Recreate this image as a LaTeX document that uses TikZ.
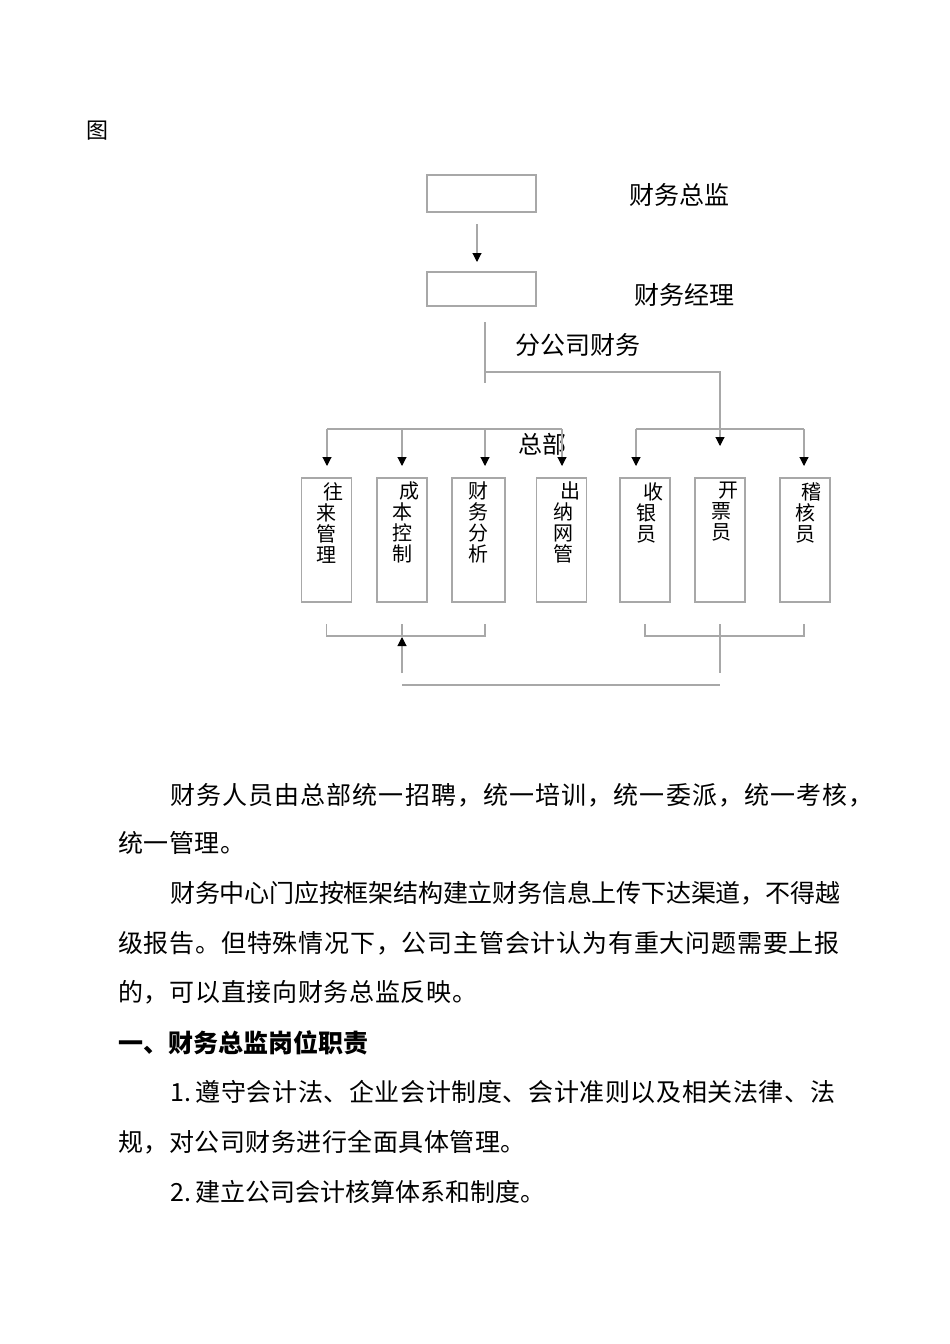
\documentclass[tikz,border=0pt]{standalone}
\usepackage{fontspec}
\setmainfont{Noto Sans CJK SC}
\usetikzlibrary{arrows.meta}
\definecolor{linegray}{gray}{0.66}

\begin{document}
\begin{tikzpicture}[x=1pt,y=-1pt,
  box/.style={draw=linegray, line width=1.1pt, inner sep=0pt, outer sep=0pt},
  post/.style={box, minimum width=50pt, minimum height=124pt},
  line/.style={draw=linegray, line width=1.1pt},
  arr/.style={line, -{Triangle[black, width=9pt, length=9pt]}},
  title/.style={inner sep=0pt, font=\fontsize{25}{25}\selectfont},
  vtext/.style={inner sep=0pt, align=center, anchor=north, font=\fontsize{20}{21}\selectfont},
  para/.style={inner sep=0pt, anchor=west, font=\fontsize{25}{25}\selectfont\addfontfeature{LetterSpace=#1}},
  para/.default=2]
\path[use as bounding box, fill=white] (0,0) rectangle (950,1344);

\node[title, font=\fontsize{22}{22}\selectfont] (tu) at (97,131) {图};

% top of the chart
\node[box, minimum width=109pt, minimum height=37pt] (zj) at (481.5,193.5) {};
\node[box, minimum width=109pt, minimum height=34pt] (jl) at (481.5,289) {};
\node[title] (zjt) at (679,195) {财务总监};
\node[title] (jlt) at (684,295) {财务经理};
\node[title] (fgs) at (578,345) {分公司财务};
\node[title, font=\fontsize{24}{24}\selectfont] (zb) at (542,444) {总部};
\draw[arr, shorten <=12pt, shorten >=10pt] ([xshift=-4.5pt]zj.south) -- ([xshift=-4.5pt]jl.north);

% posts
\node[post] (wl) at (326.5,540) {};
\node[post] (cb) at (402,540) {};
\node[post, minimum width=53pt] (cw) at (478.5,540) {};
\node[post] (cn) at (561.5,540) {};
\node[post] (sy) at (645,540) {};
\node[post] (kp) at (720,540) {};
\node[post] (jh) at (805,540) {};

\node[vtext] (wlt) at ([yshift=-4pt]wl.north) {\hspace*{14pt}往\\来\\管\\理};
\node[vtext] (cbt) at ([yshift=-4pt]cb.north) {\hspace*{14pt}成\\本\\控\\制};
\node[vtext] (cwt) at ([yshift=-4pt]cw.north) {财\\务\\分\\析};
\node[vtext] (cnt) at ([xshift=1.5pt,yshift=-4pt]cn.north) {\hspace*{14pt}出\\纳\\网\\管};
\node[vtext] (syt) at ([xshift=1pt,yshift=-4pt]sy.north) {\hspace*{14pt}收\\银\\员};
\node[vtext] (kpt) at ([xshift=1pt,yshift=-4pt]kp.north) {\hspace*{14pt}开\\票\\员};
\node[vtext] (jht) at ([yshift=-4pt]jh.north) {\hspace*{12pt}稽\\核\\员};

% branches
\coordinate (fg) at (485,322);
\coordinate (split) at (485,372);
\coordinate (l1) at (327,429);
\coordinate (l2) at (402,429);
\coordinate (l3) at (485,429);
\coordinate (l4) at (562,429);
\coordinate (r1) at (636,429);
\coordinate (r3) at (804,429);
\draw[line] (fg) -- ++(0,61);
\draw[arr] (split) -| ([yshift=32pt]kp.north);
\draw[line] (l1) -- (l4);
\draw[line] (r1) -- (r3);
\foreach \c/\b in {l1/wl, l2/cb, l3/cw, l4/cn, r1/sy, r3/jh}
  \draw[arr, shorten >=12pt] (\c) -- (\c |- \b.north);

% feedback
\coordinate (bl1) at ([yshift=-22pt]wl.south);
\coordinate (bl2) at ([xshift=6.5pt,yshift=-22pt]cw.south);
\coordinate (br1) at ([yshift=-22pt]sy.south);
\coordinate (br2) at ([xshift=-1pt,yshift=-22pt]jh.south);
\coordinate (bm) at ([yshift=-22pt]cb.south);
\coordinate (up) at (402,673);
\coordinate (dn) at (720,624);
\coordinate (fb) at (402,685);
\draw[line] (bl1) -- ++(0,12) -| (bl2);
\draw[line] (br1) -- ++(0,12) -| (br2);
\draw[line] (bm) -- ++(0,12);
\draw[arr] (up) -- ([yshift=-13pt]bm);
\draw[line] (dn) -- ++(0,49);
\draw[line] (fb) -- (fb -| dn);

% text
\node[para=4.4] (p1) at (170,795) {财务人员由总部统一招聘，统一培训，统一委派，统一考核，};
\node[para] (p2) at (118,843) {统一管理。};
\node[para=-0.8] (p3) at (170,893) {财务中心门应按框架结构建立财务信息上传下达渠道，不得越};
\node[para=3.2] (p4) at (118,943) {级报告。但特殊情况下，公司主管会计认为有重大问题需要上报};
\node[para=2.8] (p5) at (118,992) {的，可以直接向财务总监反映。};
\node[para=0, font=\fontsize{25}{25}\selectfont\bfseries] (h1) at (118,1043) {一、财务总监岗位职责};
\node[para=2.4] (p6) at (170,1092) {1.\,遵守会计法、企业会计制度、会计准则以及相关法律、法};
\node[para] (p7) at (118,1142) {规，对公司财务进行全面具体管理。};
\node[para=0] (p8) at (170,1192) {2.\,建立公司会计核算体系和制度。};
\end{tikzpicture}
\end{document}
